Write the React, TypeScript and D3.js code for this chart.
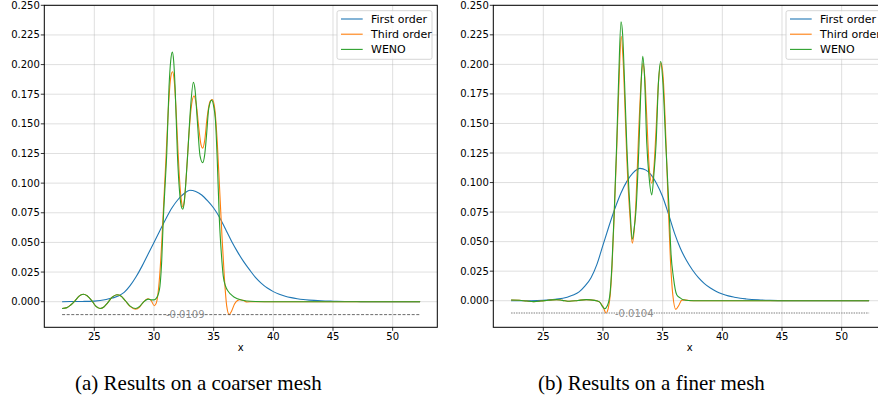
import React from 'react';
import * as d3 from 'd3';

const W = 878;
const H = 404;

const seriesNames = ['First order', 'Third order', 'WENO'];
const seriesColors = ['#1f77b4', '#ff7f0e', '#2ca02c'];
const xTicks = [25, 30, 35, 40, 45, 50];
const yTicks = [0, 0.025, 0.05, 0.075, 0.1, 0.125, 0.15, 0.175, 0.2, 0.225, 0.25];
const captions = ['(a) Results on a coarser mesh', '(b) Results on a finer mesh'];
const minValues = [-0.0109, -0.0104];
const minLabels = ['-0.0109', '-0.0104'];
const xRangeData = [22.3, 52.3];
const labelX = 31;

type Pt = [number, number];

// coarser mesh
const coarseFirst: Pt[] = [[22.3,0],[23,0.0001],[24,0.0002],[25,0.0005],[26,0.0019],[27,0.0048],[27.5,0.0078],[28,0.0135],[28.5,0.021],[29,0.030],[29.5,0.040],[30,0.050],[30.5,0.060],[31,0.070],[31.5,0.079],[32,0.086],[32.5,0.091],[33,0.094],[33.5,0.093],[34,0.090],[34.5,0.085],[35,0.079],[35.5,0.071],[36,0.061],[36.5,0.051],[37,0.042],[37.5,0.034],[38,0.027],[38.5,0.0205],[39,0.0155],[39.5,0.0115],[40,0.0085],[40.5,0.0063],[41,0.0046],[41.5,0.0034],[42,0.0025],[42.5,0.0018],[43,0.0013],[44,0.0007],[45,0.0004],[46,0.0002],[47,0.0001],[48,0],[52.3,0]];
const coarseThird: Pt[] = [[22.3,-0.0057],[22.7,-0.005],[23.0,-0.003],[23.4,0.001],[23.7,0.0045],[24.08,0.0063],[24.4,0.005],[24.8,0.0007],[25.1,-0.0035],[25.48,-0.0057],[25.8,-0.0045],[26.1,-0.0012],[26.5,0.0038],[26.9,0.0058],[27.2,0.005],[27.6,0.0008],[28.0,-0.004],[28.45,-0.0063],[28.8,-0.0045],[29.1,-0.0005],[29.5,0.0025],[29.75,0.0012],[30.03,-0.0034],[30.2,-0.001],[30.35,0.008],[30.5,0.025],[30.65,0.05],[30.8,0.08],[31.0,0.12],[31.2,0.162],[31.4,0.189],[31.55,0.194],[31.7,0.186],[31.85,0.162],[32.0,0.13],[32.15,0.102],[32.3,0.085],[32.42,0.080],[32.55,0.086],[32.7,0.105],[32.9,0.137],[33.1,0.162],[33.35,0.1736],[33.55,0.166],[33.75,0.147],[33.95,0.132],[34.08,0.1295],[34.25,0.136],[34.45,0.155],[34.7,0.169],[34.9,0.1705],[35.1,0.162],[35.3,0.135],[35.5,0.095],[35.7,0.055],[35.9,0.02],[36.1,-0.004],[36.3,-0.0109],[36.5,-0.008],[36.75,-0.002],[37.0,0.001],[37.2,0.0017],[37.5,0.001],[37.8,-0.0002],[38.3,0],[52.3,0]];
const coarseWeno: Pt[] = [[22.3,-0.0057],[22.7,-0.005],[23.0,-0.003],[23.4,0.001],[23.7,0.0045],[24.08,0.0063],[24.4,0.005],[24.8,0.0007],[25.1,-0.0035],[25.48,-0.0057],[25.8,-0.0045],[26.1,-0.0012],[26.5,0.0038],[26.9,0.0058],[27.2,0.005],[27.6,0.0008],[28.0,-0.0038],[28.45,-0.0058],[28.8,-0.004],[29.1,-0.0005],[29.5,0.0022],[29.8,0.0015],[30.0,0.0015],[30.2,0.003],[30.35,0.006],[30.5,0.013],[30.65,0.035],[30.78,0.069],[30.93,0.098],[31.07,0.125],[31.26,0.181],[31.4,0.203],[31.54,0.2105],[31.65,0.203],[31.77,0.181],[31.96,0.125],[32.15,0.092],[32.3,0.080],[32.41,0.078],[32.55,0.085],[32.7,0.105],[32.83,0.125],[33.06,0.163],[33.3,0.185],[33.45,0.178],[33.63,0.153],[33.86,0.123],[34.08,0.1173],[34.25,0.124],[34.4,0.14],[34.59,0.163],[34.84,0.170],[35.0,0.165],[35.15,0.153],[35.3,0.12],[35.48,0.069],[35.65,0.04],[35.8,0.022],[36.0,0.013],[36.2,0.009],[36.4,0.0065],[36.7,0.004],[37.0,0.0025],[37.4,0.0012],[37.8,0.0006],[38.5,0.0002],[40,0],[52.3,0]];

// finer mesh
const fineFirst: Pt[] = [[22.3,0],[24,0],[25,0.0003],[26,0.0012],[27,0.003],[27.5,0.0048],[28,0.0075],[28.5,0.0125],[29,0.0195],[29.5,0.031],[30,0.047],[30.5,0.063],[31,0.078],[31.5,0.091],[32,0.101],[32.5,0.108],[33.1,0.112],[33.6,0.1105],[34,0.107],[34.5,0.099],[35,0.088],[35.5,0.073],[36,0.057],[36.5,0.044],[37,0.034],[37.5,0.026],[38,0.0195],[38.5,0.0145],[39,0.0107],[39.5,0.0078],[40,0.0057],[40.5,0.0041],[41,0.003],[41.5,0.0021],[42,0.0015],[43,0.0007],[44,0.0003],[45,0.0001],[46,0],[52.3,0]];
const fineThird: Pt[] = [[22.3,0.0006],[23,0.0004],[23.6,-0.0003],[24.2,-0.0008],[24.8,-0.0003],[25.4,0.0004],[26.1,0.0009],[26.6,0.0003],[27.2,-0.0005],[27.9,0.0002],[28.6,0.0009],[29.3,0.0003],[29.7,-0.001],[30.0,-0.005],[30.26,-0.0104],[30.45,-0.006],[30.6,0.004],[30.75,0.027],[30.95,0.075],[31.15,0.128],[31.32,0.178],[31.53,0.2237],[31.68,0.205],[31.82,0.17],[32.0,0.12],[32.27,0.07],[32.46,0.0486],[32.6,0.058],[32.77,0.085],[33.0,0.145],[33.2,0.186],[33.35,0.2006],[33.5,0.19],[33.67,0.155],[33.88,0.112],[34.09,0.0995],[34.25,0.11],[34.45,0.145],[34.65,0.185],[34.87,0.2012],[35.05,0.188],[35.26,0.14],[35.45,0.085],[35.65,0.035],[35.85,0.005],[36.1,-0.0073],[36.35,-0.004],[36.6,0.0005],[36.85,0.0007],[37.3,0],[52.3,0]];
const fineWeno: Pt[] = [[22.3,0.0006],[23,0.0004],[23.6,-0.0003],[24.2,-0.0008],[24.8,-0.0003],[25.4,0.0004],[26.1,0.0009],[26.6,0.0003],[27.2,-0.0005],[27.9,0.0002],[28.6,0.0009],[29.3,0.0003],[29.7,-0.001],[30.0,-0.0055],[30.15,-0.0068],[30.35,-0.0045],[30.5,0.0],[30.59,0.006],[30.75,0.03],[30.95,0.077],[31.15,0.133],[31.32,0.19],[31.51,0.236],[31.65,0.225],[31.79,0.19],[31.99,0.133],[32.27,0.077],[32.45,0.052],[32.6,0.06],[32.77,0.077],[33.02,0.133],[33.18,0.18],[33.33,0.2068],[33.48,0.19],[33.67,0.133],[33.86,0.105],[34.09,0.0896],[34.25,0.105],[34.45,0.133],[34.65,0.185],[34.84,0.2025],[35.02,0.185],[35.26,0.133],[35.54,0.077],[35.7,0.04],[35.9,0.02],[36.18,0.005],[36.45,0.0025],[36.73,0.0008],[37.2,0.0002],[38,0],[52.3,0]];

const panelSeries: Pt[][][] = [
  [coarseFirst, coarseThird, coarseWeno],
  [fineFirst, fineThird, fineWeno],
];

const panels = [
  { left: 44.3, yMin: -0.0216, capX: 75, dash: '3,1.6', dashColor: '#444', dashW: 0.8 },
  { left: 493.3, yMin: -0.0225, capX: 538, dash: '1.5,1', dashColor: '#aaaaaa', dashW: 1.3 },
];

const AX_W = 393;
const AX_TOP = 5.3;
const AX_BOTTOM = 327.3;
const FONT = 'DejaVu Sans, sans-serif';

function Panel({ idx }: { idx: number }) {
  const p = panels[idx];
  const x = d3.scaleLinear().domain([20.81, 53.74]).range([p.left, p.left + AX_W]);
  const y = d3.scaleLinear().domain([p.yMin, 0.25]).range([AX_BOTTOM, AX_TOP]);
  const line = d3.line<Pt>().x(d => x(d[0])).y(d => y(d[1])).curve(d3.curveMonotoneX);
  const fmt = d3.format('.3f');
  const legX = p.left + AX_W - 100.3;
  const legY = 10.7;
  const minY = y(minValues[idx]);
  return (
    <g>
      {xTicks.map(t => (
        <line key={'gx' + t} x1={x(t)} x2={x(t)} y1={AX_TOP} y2={AX_BOTTOM} stroke="#b0b0b0" strokeOpacity={0.45} strokeWidth={0.9} />
      ))}
      {yTicks.map(t => (
        <line key={'gy' + t} x1={p.left} x2={p.left + AX_W} y1={y(t)} y2={y(t)} stroke="#b0b0b0" strokeOpacity={0.45} strokeWidth={0.9} />
      ))}
      {panelSeries[idx].map((s, i) => (
        <path key={'s' + i} d={line(s) || ''} fill="none" stroke={seriesColors[i]} strokeWidth={1.1} />
      ))}
      <line x1={x(xRangeData[0])} x2={x(xRangeData[1])} y1={minY} y2={minY} stroke={p.dashColor} strokeWidth={p.dashW} strokeDasharray={p.dash} />
      <text x={x(labelX)} y={minY} dy="0.35em" fontFamily={FONT} fontSize={10} fill="#808080" fillOpacity={0.9}>{minLabels[idx]}</text>
      <rect x={p.left} y={AX_TOP} width={AX_W} height={AX_BOTTOM - AX_TOP} fill="none" stroke="#000" strokeWidth={1} />
      {xTicks.map(t => (
        <g key={'tx' + t}>
          <line x1={x(t)} x2={x(t)} y1={AX_BOTTOM} y2={AX_BOTTOM + 3.5} stroke="#000" strokeWidth={0.8} />
          <text x={x(t)} y={AX_BOTTOM + 12.5} textAnchor="middle" fontFamily={FONT} fontSize={10} fill="#000">{t}</text>
        </g>
      ))}
      {yTicks.map(t => (
        <g key={'ty' + t}>
          <line x1={p.left - 3.5} x2={p.left} y1={y(t)} y2={y(t)} stroke="#000" strokeWidth={0.8} />
          <text x={p.left - 4.5} y={y(t)} dy="0.35em" textAnchor="end" fontFamily={FONT} fontSize={10} fill="#000">{fmt(t)}</text>
        </g>
      ))}
      <text x={p.left + AX_W / 2} y={351} textAnchor="middle" fontFamily={FONT} fontSize={10} fill="#000">x</text>
      <rect x={legX} y={legY} width={95} height={48.6} rx={2} fill="#fff" fillOpacity={0.8} stroke="#cccccc" strokeWidth={0.8} />
      {seriesNames.map((n, i) => {
        const ly = legY + 8.3 + i * 15.2;
        return (
          <g key={'lg' + i}>
            <line x1={legX + 4} x2={legX + 25.7} y1={ly} y2={ly} stroke={seriesColors[i]} strokeWidth={1.1} />
            <text x={legX + 34} y={ly} dy="0.35em" fontFamily={FONT} fontSize={11} fill="#000">{n}</text>
          </g>
        );
      })}
      <text x={p.capX} y={390} textAnchor="start" fontFamily="Liberation Serif, serif" fontSize={21} fill="#000">{captions[idx]}</text>
    </g>
  );
}

export default function App() {
  return (
    <svg width={W} height={H} viewBox={`0 0 ${W} ${H}`} style={{ position: 'fixed', left: 0, top: 0, background: '#fff' }}>
      <rect x={0} y={0} width={W} height={H} fill="#fff" />
      <Panel idx={0} />
      <Panel idx={1} />
    </svg>
  );
}
